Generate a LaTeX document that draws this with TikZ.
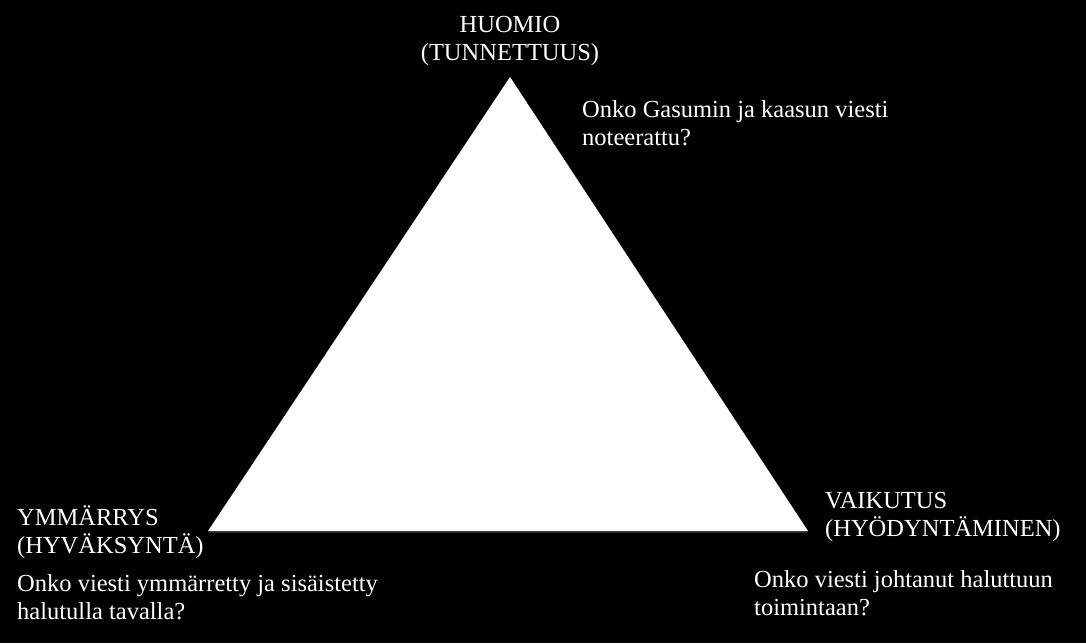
\documentclass[tikz,border=0pt]{standalone}
\usepackage{fontspec}
\setmainfont{Liberation Serif}
\usetikzlibrary{positioning}

\begin{document}
\begin{tikzpicture}[x=1pt, y=-1pt,
  caption/.style={text=white, font=\fontsize{24.5}{28}\selectfont,
    inner sep=0pt, align=left},
  %
  corner/.style={caption, anchor=base west},
  %
  apex/.style={caption, align=center, anchor=base}
  ]

  \fill[black] (0,0) rectangle (1086,643);
  \useasboundingbox (0,0) rectangle (1086,643);

  % triangle
  \coordinate (top) at (510,77);
  \coordinate (left) at (208,531);
  \coordinate (right) at (808,531);
  \fill[black!85] ([yshift=-2]left) -- ([yshift=-2]right) -- (top) -- cycle;
  \fill[white] (top) -- (left) -- (right) -- cycle;

  % texts (base = last line)
  \node [apex] (huomio) at (510,60) {HUOMIO\\(TUNNETTUUS)};
  \node [corner] (huomioQ) at (582,145) {Onko Gasumin ja kaasun viesti\\noteerattu?};
  \node [corner] (ymmarrys) at (17,553) {YMMÄRRYS\\(HYVÄKSYNTÄ)};
  \node [corner] (ymmarrysQ) at (17,619) {Onko viesti ymmärretty ja sisäistetty\\halutulla tavalla?};
  \node [corner] (vaikutus) at (825,536) {VAIKUTUS\\(HYÖDYNTÄMINEN)};
  \node [corner] (vaikutusQ) at (754,615) {Onko viesti johtanut haluttuun\\toimintaan?};

\end{tikzpicture}
\end{document}
